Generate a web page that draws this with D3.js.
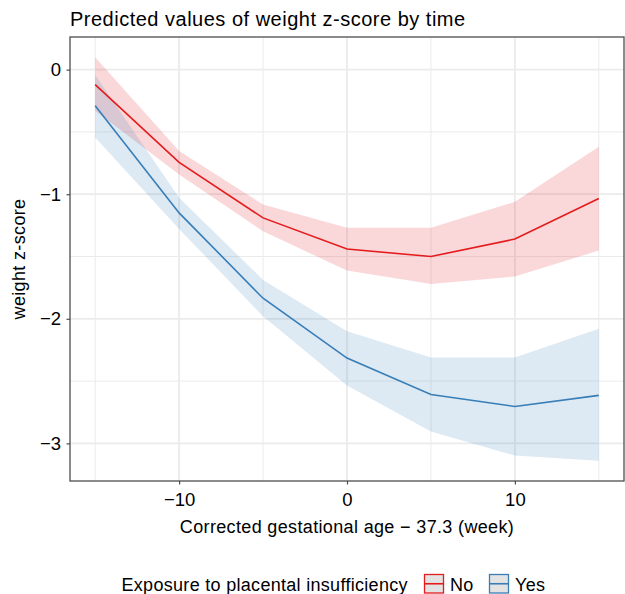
<!DOCTYPE html>
<html>
<head>
<meta charset="utf-8">
<script src="https://cdnjs.cloudflare.com/ajax/libs/d3/7.8.5/d3.min.js"></script>
<style>
    body { margin: 0; background: #fff; }
    text { font-family: "Liberation Sans", Arial, Helvetica, sans-serif; fill: #000; }
</style>
</head>
<body>
<div id="chart"></div>
<script>
    //data
    var ages = [-15, -10, -5, 0, 5, 10, 15];
    var groups = ["No", "Yes"];
    var noFit  = [-0.12, -0.745, -1.19, -1.44, -1.50, -1.36, -1.035];
    var noLow  = [-0.33, -0.841, -1.298, -1.613, -1.72, -1.66, -1.452];
    var noHigh = [0.10, -0.653, -1.083, -1.27, -1.27, -1.061, -0.618];
    var yesFit  = [-0.29, -1.15, -1.835, -2.315, -2.607, -2.704, -2.615];
    var yesLow  = [-0.545, -1.279, -1.98, -2.535, -2.905, -3.098, -3.14];
    var yesHigh = [-0.043, -1.029, -1.688, -2.099, -2.31, -2.31, -2.08];
    var xTicks = [-10, 0, 10];
    var xMinor = [-15, -5, 5, 15];
    var yTicks = [0, -1, -2, -3];
    var yMinor = [-0.5, -1.5, -2.5];

    var colors = { "No": "#e41a1c", "Yes": "#377eb8" };
    var bandOpacity = 0.17;

    var width = 625, height = 594;
    var panel = { left: 70, top: 37, right: 624, bottom: 481 };

    var series = [
        { name: "No",  fit: noFit,  low: noLow,  high: noHigh },
        { name: "Yes", fit: yesFit, low: yesLow, high: yesHigh }
    ];

    //ggplot style 5% expansion of the data range
    var xMin = d3.min(ages), xMax = d3.max(ages);
    var xPad = (xMax - xMin) * 0.05;
    var allY = noLow.concat(noHigh, yesLow, yesHigh);
    var yMin = d3.min(allY), yMax = d3.max(allY);
    var yPad = (yMax - yMin) * 0.05;

    var x = d3.scaleLinear().domain([xMin - xPad, xMax + xPad]).range([panel.left, panel.right]);
    var y = d3.scaleLinear().domain([yMin - yPad, yMax + yPad]).range([panel.bottom, panel.top]);

    var svg = d3.select("#chart")
        .append("svg")
        .attr("xmlns", "http://www.w3.org/2000/svg")
        .attr("width", width)
        .attr("height", height);

    //grid lines, minor first
    var grid = svg.append("g").attr("class", "grid");
    grid.selectAll("line.xminor").data(xMinor).enter().append("line")
        .attr("x1", function(d){ return x(d); }).attr("x2", function(d){ return x(d); })
        .attr("y1", panel.top).attr("y2", panel.bottom)
        .style("stroke", "#ebebeb").style("stroke-width", 1);
    grid.selectAll("line.yminor").data(yMinor).enter().append("line")
        .attr("y1", function(d){ return y(d); }).attr("y2", function(d){ return y(d); })
        .attr("x1", panel.left).attr("x2", panel.right)
        .style("stroke", "#ebebeb").style("stroke-width", 1);
    grid.selectAll("line.xmajor").data(xTicks).enter().append("line")
        .attr("x1", function(d){ return x(d); }).attr("x2", function(d){ return x(d); })
        .attr("y1", panel.top).attr("y2", panel.bottom)
        .style("stroke", "#ebebeb").style("stroke-width", 1.8);
    grid.selectAll("line.ymajor").data(yTicks).enter().append("line")
        .attr("y1", function(d){ return y(d); }).attr("y2", function(d){ return y(d); })
        .attr("x1", panel.left).attr("x2", panel.right)
        .style("stroke", "#ebebeb").style("stroke-width", 1.8);

    //confidence bands
    var area = d3.area()
        .x(function(d, i){ return x(ages[i]); })
        .y0(function(d){ return y(d[0]); })
        .y1(function(d){ return y(d[1]); });

    var line = d3.line()
        .x(function(d, i){ return x(ages[i]); })
        .y(function(d){ return y(d); });

    svg.selectAll("path.band").data(series).enter().append("path")
        .attr("class", "band")
        .attr("d", function(s){ return area(s.low.map(function(v, i){ return [v, s.high[i]]; })); })
        .style("fill", function(s){ return colors[s.name]; })
        .style("fill-opacity", bandOpacity)
        .style("stroke", "none");

    svg.selectAll("path.fit").data(series).enter().append("path")
        .attr("class", "fit")
        .attr("d", function(s){ return line(s.fit); })
        .style("fill", "none")
        .style("stroke", function(s){ return colors[s.name]; })
        .style("stroke-width", 1.6);

    //panel border
    svg.append("rect")
        .attr("x", panel.left).attr("y", panel.top)
        .attr("width", panel.right - panel.left).attr("height", panel.bottom - panel.top)
        .style("fill", "none").style("stroke", "#4d4d4d").style("stroke-width", 1.3);

    //axes
    var minusFormat = function(d){ return d3.format("d")(d).replace("-", "\u2212"); };
    var xAxis = d3.axisBottom(x).tickValues(xTicks).tickSize(3.5).tickPadding(8).tickFormat(minusFormat);
    var yAxis = d3.axisLeft(y).tickValues(yTicks).tickSize(3.5).tickPadding(5.5).tickFormat(minusFormat);

    var gx = svg.append("g").attr("transform", "translate(0," + panel.bottom + ")").call(xAxis);
    var gy = svg.append("g").attr("transform", "translate(" + panel.left + ",0)").call(yAxis);
    [gx, gy].forEach(function(g){
        g.select(".domain").remove();
        g.selectAll(".tick line").style("stroke", "#4d4d4d").style("stroke-width", 1.2);
        g.selectAll(".tick text")
            .style("font-family", "'Liberation Sans', Arial, sans-serif")
            .style("font-size", "18.5px")
            .style("fill", "#000");
    });
    gx.selectAll(".tick text").attr("dy", "0.71em");

    //titles
    svg.append("text")
        .attr("x", panel.left).attr("y", 26)
        .style("font-size", "20px")
        .style("letter-spacing", "0.5px")
        .text("Predicted values of weight z-score by time");

    svg.append("text")
        .attr("x", (panel.left + panel.right) / 2).attr("y", 532.5)
        .attr("text-anchor", "middle")
        .style("font-size", "18px")
        .style("letter-spacing", "0.35px")
        .text("Corrected gestational age \u2212 37.3 (week)");

    svg.append("text")
        .attr("transform", "translate(25," + ((panel.top + panel.bottom) / 2) + ") rotate(-90)")
        .attr("text-anchor", "middle")
        .style("font-size", "18px")
        .style("letter-spacing", "0.35px")
        .text("weight z-score");

    //legend
    var legend = svg.append("g").attr("class", "legend");
    legend.append("text")
        .attr("x", 121.5).attr("y", 590.5)
        .style("font-size", "18px")
        .style("letter-spacing", "0.3px")
        .text("Exposure to placental insufficiency");

    var keyX = [424.5, 489.5];
    var keys = legend.selectAll("g.key").data(groups).enter().append("g")
        .attr("class", "key")
        .attr("transform", function(d, i){ return "translate(" + keyX[i] + ",574.5)"; });
    keys.append("rect")
        .attr("width", 19).attr("height", 18.5)
        .style("fill", "#e3e3e3")
        .style("stroke", function(d){ return colors[d]; })
        .style("stroke-width", 1.3);
    keys.append("line")
        .attr("x1", 0).attr("x2", 19).attr("y1", 9.25).attr("y2", 9.25)
        .style("stroke", function(d){ return colors[d]; })
        .style("stroke-width", 1.6);
    keys.append("text")
        .attr("x", 25.5).attr("y", 16)
        .style("font-size", "18px")
        .style("letter-spacing", "0.3px")
        .text(function(d){ return d; });
</script>
</body>
</html>
